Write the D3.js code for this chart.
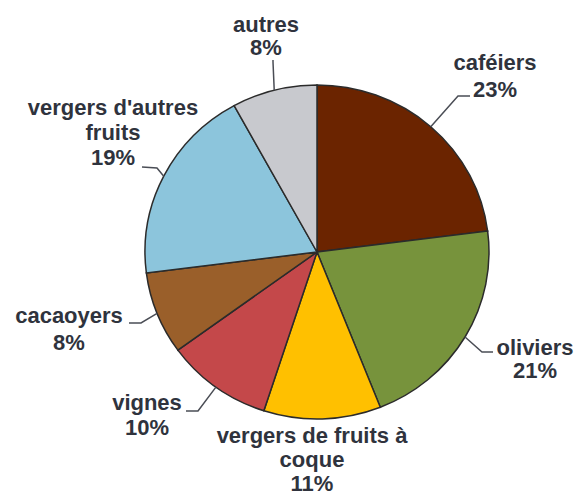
<!DOCTYPE html>
<html>
<head>
<meta charset="utf-8">
<script src="https://cdn.jsdelivr.net/npm/d3@7"></script>
<style>
  body { margin: 0; background: #fff; }
  svg { display: block; }
</style>
</head>
<body>
<div id="chart"></div>
<script>
// chart data
const categories = ['caféiers', 'oliviers', 'vergers de fruits à coque', 'vignes', 'cacaoyers', "vergers d'autres fruits", 'autres'];
const values = [23, 21, 11, 10, 8, 19, 8];
const labelLines = [
  ['caféiers', '23%'],
  ['oliviers', '21%'],
  ['vergers de fruits à', 'coque', '11%'],
  ['vignes', '10%'],
  ['cacaoyers', '8%'],
  ["vergers d'autres", 'fruits', '19%'],
  ['autres', '8%']
];
const colors = ['#6b2400', '#77933c', '#ffc000', '#c4484a', '#9a5f2a', '#8cc5dc', '#c8c9ce'];

// layout
const width = 578, height = 497;
const cx = 317, cy = 252, rx = 172, ry = 167;
const fontSize = 22, lineGap = 24;

// label anchor (centre x, first baseline) and leader bend/end points
const labelLayout = [
  { x: 495, y: 70, gap: 27, leader: [[458, 96], [470, 96]] },
  { x: 535, y: 355, gap: 23, leader: [[482, 352], [493, 352]] },
  { x: 312, y: 443, gap: 24, leader: null },
  { x: 147, y: 410, gap: 25, leader: [[198, 411], [186, 411]] },
  { x: 69, y: 323, gap: 27, leader: [[141, 323], [129, 323]] },
  { x: 113, y: 115, gap: 25, leader: [[157, 168], [142, 167]] },
  { x: 266, y: 32, gap: 23, leader: [[273, 62], [273, 60]] }
];

const svg = d3.select('#chart')
  .append('svg')
    .attr('width', width)
    .attr('height', height);

const pie = d3.pie()
  .sort(null)
  .value(d => d);

const arcs = pie(values);

const arc = d3.arc()
  .innerRadius(0)
  .outerRadius(rx);

// pie is a little flatter than a circle
const g = svg.append('g')
  .attr('transform', `translate(${cx},${cy}) scale(1,${ry / rx})`);

g.selectAll('path')
  .data(arcs)
  .enter()
  .append('path')
    .attr('d', arc)
    .attr('fill', (d, i) => colors[i])
    .attr('stroke', '#2b2b2b')
    .attr('stroke-width', 1.5)
    .attr('vector-effect', 'non-scaling-stroke');

// point on the rim at the middle of a slice
const rimPoint = d => {
  const a = (d.startAngle + d.endAngle) / 2;
  return [cx + rx * Math.sin(a), cy - ry * Math.cos(a)];
};

const line = d3.line();

arcs.forEach((d, i) => {
  const lay = labelLayout[i];
  if (lay.leader) {
    svg.append('path')
      .attr('d', line([rimPoint(d)].concat(lay.leader)))
      .attr('fill', 'none')
      .attr('stroke', '#4a4d55')
      .attr('stroke-width', 1.5);
  }
  const t = svg.append('text')
    .attr('text-anchor', 'middle')
    .attr('font-family', '"Liberation Sans", Arial, sans-serif')
    .attr('font-weight', 'bold')
    .attr('font-size', fontSize)
    .attr('fill', '#2f333d');
  labelLines[i].forEach((s, j) => {
    t.append('tspan')
      .attr('x', lay.x)
      .attr('y', lay.y + j * (lay.gap || lineGap))
      .text(s);
  });
});
</script>
</body>
</html>
